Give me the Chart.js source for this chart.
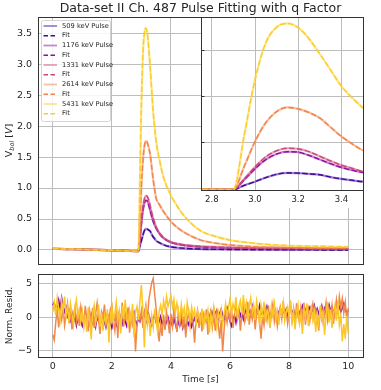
<!DOCTYPE html>
<html>
<head>
<meta charset="utf-8">
<script src="https://cdn.jsdelivr.net/npm/chart.js@4.4.0/dist/chart.umd.min.js"></script>
<style>
  body { margin: 0; background: #fff; }
  #wrap { position: relative; width: 381px; height: 390px; }
  canvas { position: absolute; }
</style>
</head>
<body>
<div id="wrap">
  <canvas id="main" width="381" height="270" style="left:0;top:0"></canvas>
  <canvas id="inset" width="170" height="198" style="left:195px;top:10px"></canvas>
  <canvas id="resid" width="381" height="120" style="left:0;top:270px"></canvas>
</div>
<script>
// ---- data ----
const seriesNames = ['509 keV', '1176 keV', '1331 keV', '2614 keV', '5431 keV'];
const fitColors = ['#41049d', '#8f0da4', '#cc4778', '#f2844b', '#fcce25'];

const pulseTime = [0, 0.5, 1, 1.5, 2, 2.5, 2.9, 2.95, 3.0, 3.05, 3.1, 3.15, 3.2, 3.25, 3.3, 3.35, 3.4, 3.45, 3.5,
                   3.6, 3.75, 4.0, 4.25, 4.5, 5.0, 5.5, 6, 7, 8, 9, 10];
const pulse509  = [0.02, 0.015, 0.01, 0.003, -0.005, -0.013, -0.02, 0.07, 0.15, 0.24, 0.31, 0.34, 0.335, 0.32, 0.30, 0.25, 0.21, 0.18, 0.15,
                   0.12, 0.085, 0.05, 0.035, 0.025, 0.015, 0.01, 0.008, 0.004, 0.002, 0.001, 0];
const pulse1176 = [0.02, 0.015, 0.01, 0.003, -0.005, -0.013, -0.02, 0.19, 0.43, 0.63, 0.75, 0.80, 0.79, 0.72, 0.63, 0.54, 0.46, 0.40, 0.35,
                   0.27, 0.19, 0.12, 0.09, 0.07, 0.05, 0.04, 0.035, 0.03, 0.02, 0.02, 0.02];
const pulse1331 = [0.02, 0.015, 0.01, 0.003, -0.005, -0.013, -0.02, 0.21, 0.47, 0.69, 0.82, 0.875, 0.86, 0.80, 0.70, 0.60, 0.51, 0.44, 0.37,
                   0.28, 0.20, 0.13, 0.10, 0.08, 0.06, 0.05, 0.04, 0.03, 0.03, 0.02, 0.02];
const pulse2614 = [0.02, 0.015, 0.01, 0.003, -0.005, -0.013, -0.02, 0.48, 1.02, 1.43, 1.67, 1.76, 1.73, 1.65, 1.53, 1.33, 1.13, 0.97, 0.83,
                   0.74, 0.62, 0.46, 0.35, 0.27, 0.16, 0.11, 0.08, 0.05, 0.04, 0.03, 0.03];
const pulse5431 = [0.02, 0.015, 0.01, 0.003, -0.005, -0.013, -0.02, 1.15, 2.36, 3.16, 3.50, 3.58, 3.49, 3.25, 2.92, 2.57, 2.22, 1.97, 1.75,
                   1.48, 1.17, 0.88, 0.68, 0.52, 0.31, 0.22, 0.16, 0.10, 0.07, 0.06, 0.05];
const pulses = [pulse509, pulse1176, pulse1331, pulse2614, pulse5431];

// normalised residuals, one value every 0.05 s from 0 to 10 s
const residStep = 0.05;
const resid1176 = [
  1.8, 2.2, 0.9, 1.6, 2.6, 1.3, 2.9, 1.7, 0.8, 1.5, 0.2, 1.0, -0.4, 0.6, -0.8, 0.3, -1.2, -0.2, 0.5, -0.6,
  -1.3, -0.4, 0.2, -1.0, -1.7, -0.5, 0.4, -0.9, -0.2, -1.4, 0.1, -0.6, -1.1, -0.3, 0.5, -0.8, -1.5, -0.4, 0.2, -0.9,
  -1.6, -0.7, 0.1, -1.2, -0.5, 0.6, -0.3, -1.0, 0.4, -0.6, -1.3, -0.1, 0.5, -0.8, -0.2, 0.7, -0.5, -1.1, 0.0, -0.6,
  0.3, -0.4, 0.8, -0.2, -0.9, 0.4, -0.5, -1.2, -0.3, 0.5, -0.8, -1.4, -0.6, 0.1, -1.0, -0.4, -1.3, -0.7, 0.0, -0.9,
  -0.5, -1.3, -0.2, -1.0, -1.8, -0.6, -1.2, -0.3, -1.6, -0.8, -1.9, -0.5, -1.1, -0.2, -1.4, -0.7, -0.1, -1.0, -0.4, -0.8,
  -0.3, 0.4, -0.7, 0.2, -0.5, 0.6, -0.2, 0.9, 0.3, 1.3, 0.5, 1.0, -0.2, 0.6, 1.2, 0.4, -0.4, 0.8, 1.4, 0.2,
  -0.6, -1.3, -0.4, 0.3, -0.8, 0.5, 1.1, 0.2, 0.9, -0.3, 0.6, 1.4, 0.3, 1.0, 0.5, 1.7, 0.8, 0.2, 1.1, 0.5,
  1.8, 0.9, 0.3, 1.2, 0.5, 1.6, 0.7, 0.1, 1.0, 0.4, 1.3, 0.6, 0.0, 0.8, 1.4, 0.3, 1.0, 0.5, 1.2, 0.2,
  0.9, 1.5, 0.6, 1.1, 0.2, 0.8, 1.4, 0.5, 1.0, 1.7, 0.7, 1.2, 0.3, 0.9, 1.5, 0.6, 1.1, 1.8, 0.8, 1.3,
  0.5, 1.2, 1.8, 0.9, 1.4, 0.6, 1.1, 1.9, 1.0, 1.5, 0.7, 1.3, 2.0, 1.1, 1.6, 0.8, 1.4, 2.1, 1.2, 0.6,
  1.0];
const resid2614 = [
  -2.6, -3.4, -0.8, 1.2, -1.5, 0.6, -0.4, 1.8, -1.2, 0.3, 2.0, -0.9, 0.9, -1.8, 0.2, 1.5, -0.6, 0.8, -1.3, 1.6,
  0.4, -1.0, 1.7, -0.2, -2.0, 0.9, -0.7, 1.4, -1.6, 0.5, 2.1, -0.4, -2.5, 0.8, 0.0, 1.9, -1.1, 0.6, -0.5, 1.2,
  1.8, -0.6, -2.0, 1.1, -3.1, 0.4, -0.8, 2.2, -1.4, 0.7, -0.2, 1.5, -2.3, 0.3, -1.0, 0.9, -5.1, -1.2, 0.6, -0.4,
  1.0, -1.6, 0.5, 1.8, -0.5, 2.6, 3.9, 5.2, 5.8, 3.4, 1.2, -1.5, -3.6, -1.0, -2.8, 0.4, -1.9, 0.8, -0.6, -2.4,
  0.5, -1.3, 1.2, -0.4, -2.2, 0.8, -0.9, 1.5, -1.7, 0.2, -3.0, -0.5, 0.9, -1.4, 0.3, -0.8, -3.8, -0.2, 1.0, -1.6,
  0.7, -2.1, 0.4, -0.6, 1.2, -2.6, -0.3, 0.9, -1.5, 0.3, -2.0, 0.6, -1.0, -3.2, -0.4, -5.1, -1.8, 0.5, -0.8, 1.0,
  -0.5, 1.3, -1.6, 0.4, 2.0, -0.2, 1.0, -2.0, 0.6, 1.8, -0.7, 0.2, 2.3, -1.1, 0.8, -0.3, 1.6, -1.8, 0.5, 1.2,
  -0.8, -3.2, 0.3, -1.2, 1.1, -0.4, 1.8, -1.5, 0.5, 2.0, -0.6, 0.9, -1.3, 0.4, 1.5, -0.2, 2.4, 0.1, 1.0, -1.0,
  0.6, 1.9, -0.5, 1.2, -1.4, 2.1, 0.3, -0.8, 1.5, 0.0, 2.2, -1.1, 0.7, 1.4, -0.6, 0.9, 2.0, -0.3, 1.1, 0.4,
  -2.0, 0.8, 1.6, -0.7, 0.5, 2.2, -0.4, 1.3, 0.2, 1.8, -1.0, 0.9, 2.6, 0.4, 3.1, 1.5, 2.8, 0.6, 2.2, -0.3,
  1.4];
const resid5431 = [
  0.8, 2.2, 0.3, 2.9, 1.2, -0.4, 2.5, 1.0, 3.1, 0.2, 1.6, -0.8, 2.0, 0.5, -1.2, 1.4, 2.6, 0.0, 1.1, -0.6,
  0.9, -1.5, 0.4, -2.2, 1.5, -0.3, -3.3, 0.6, 1.8, -0.9, 0.2, 1.9, -1.4, 0.7, -2.0, 0.3, -0.8, 1.2, -3.8, 0.1,
  1.5, -1.0, 0.6, 2.3, -0.5, 0.9, -2.4, 1.7, -0.2, 2.6, 0.4, -1.6, 1.0, -0.7, 2.0, -3.0, 0.8, 1.6, -0.4, 2.4,
  4.8, 1.0, -4.5, 1.8, -1.2, 0.5, -2.8, 0.2, -1.5, 1.3, -0.6, -2.2, 0.9, 1.8, 0.3, 2.5, 1.2, 3.1, 1.6, 2.4,
  3.2, 1.5, 2.7, 0.6, 2.1, 1.0, -0.5, 1.9, 0.3, 1.4, -0.8, 2.2, 0.7, -0.3, 1.5, 0.1, 1.1, -1.2, 0.9, 0.2,
  -0.6, 1.3, -1.8, 0.5, -0.3, 1.0, -2.3, 0.4, -0.9, 1.6, 0.2, -1.5, 0.8, -0.4, 1.2, -1.0, 0.6, 2.0, 0.3, 1.5,
  2.8, 0.6, 2.0, 1.1, 3.0, -0.2, 1.7, 2.5, 0.4, 3.3, 1.2, 2.2, -0.5, 1.6, 2.9, 0.7, 1.9, -0.4, 2.4, 1.0,
  -1.2, 1.8, 0.3, 2.3, -0.7, 1.1, 0.5, -1.6, 1.7, 0.2, 2.0, -0.3, 0.9, -1.1, 1.4, 0.4, 2.2, -0.5, 0.8, 1.6,
  0.1, 2.4, -0.6, 1.0, -1.8, 0.7, 1.9, -0.9, 0.4, -2.5, 1.3, 0.0, 2.1, -1.3, 0.6, 1.5, -0.4, 1.0, -2.2, 0.5,
  -1.0, 1.7, -0.3, 0.9, -2.6, 0.4, 2.3, -0.8, 1.2, -1.6, 0.6, 1.8, -0.5, 2.5, -1.2, 0.3, -3.6, -1.0, -3.2, 0.2,
  -2.5];
const residSeries = [resid1176, resid2614, resid5431];
const residColors = ['#7f06a8', '#f2874a', '#fcc626'];

// ---- helpers ----
const FONT = '"DejaVu Sans", sans-serif';
const GRID = '#bdbdbd';
const INK = '#262626';

function alpha(hex, a) {
  const n = parseInt(hex.slice(1), 16);
  return `rgba(${n >> 16},${(n >> 8) & 255},${n & 255},${a})`;
}
function xy(xs, ys) { return ys.map((y, i) => ({x: xs[i], y: y})); }

function richText(ctx, segs, cx, cy, rot) {
  ctx.save();
  ctx.translate(cx, cy);
  if (rot) ctx.rotate(rot);
  ctx.fillStyle = INK;
  ctx.textBaseline = 'middle';
  ctx.textAlign = 'left';
  let w = 0;
  segs.forEach(s => { ctx.font = s.font; w += ctx.measureText(s.t).width; });
  let x = -w / 2;
  segs.forEach(s => {
    ctx.font = s.font;
    ctx.fillText(s.t, x, s.dy || 0);
    x += ctx.measureText(s.t).width;
  });
  ctx.restore();
}

// no extra padding from tick labels: the boxes are sized by hand
function fixW(w) { return s => { s.width = w; s.paddingTop = 0; s.paddingBottom = 0; }; }
function fixH(h) { return s => { s.height = h; s.paddingLeft = 0; s.paddingRight = 0; }; }

const frame = {
  id: 'frame',
  afterDatasetsDraw(chart) {
    const a = chart.chartArea, c = chart.ctx;
    c.save();
    c.strokeStyle = '#333';
    c.lineWidth = 1;
    c.strokeRect(Math.floor(a.left) + 0.5, Math.floor(a.top) + 0.5,
                 Math.round(a.right - a.left), Math.round(a.bottom - a.top));
    c.restore();
  }
};

// later datasets go on top (chart.js puts low order on top)
function pulseSets() {
  const sets = [];
  pulses.forEach((p, i) => {
    sets.push({ label: seriesNames[i] + ' Pulse', data: xy(pulseTime, p),
      borderColor: alpha(fitColors[i], 0.5), borderWidth: 2.2 });
    sets.push({ label: 'Fit', data: xy(pulseTime, p),
      borderColor: fitColors[i], borderWidth: 1.4, borderDash: [5.5, 2.4] });
  });
  sets.forEach((s, k) => {
    s.pointRadius = 0; s.cubicInterpolationMode = 'monotone'; s.fill = false; s.order = sets.length - k;
  });
  return sets;
}

Chart.defaults.font.family = FONT;
Chart.defaults.color = INK;

// ---- main panel ----
const mainLabels = {
  id: 'mainLabels',
  afterDraw(chart) {
    const c = chart.ctx;
    richText(c, [{t: 'Data-set II Ch. 487 Pulse Fitting with q Factor', font: '12.5px ' + FONT}], 200.5, 9);
    richText(c, [
      {t: 'V', font: '9.5px ' + FONT},
      {t: 'bol', font: 'italic 6.5px ' + FONT, dy: 2.5},
      {t: ' [', font: '9.5px ' + FONT},
      {t: 'V', font: 'italic 9.5px ' + FONT},
      {t: ']', font: '9.5px ' + FONT}
    ], 10, 140.5, -Math.PI / 2);

    // legend box
    c.save();
    c.fillStyle = 'rgba(255,255,255,0.85)';
    c.strokeStyle = '#d4d4d4';
    c.lineWidth = 1;
    c.beginPath();
    c.roundRect(41.5, 20.5, 69, 101, 2);
    c.fill();
    c.stroke();
    chart.data.datasets.forEach((ds, k) => {
      const y = 26 + k * 9.75;
      c.strokeStyle = ds.borderColor;
      c.lineWidth = ds.borderDash ? 1.4 : 1.8;
      c.setLineDash(ds.borderDash ? [4.5, 2.5] : []);
      c.beginPath();
      c.moveTo(43.5, y);
      c.lineTo(57, y);
      c.stroke();
      c.setLineDash([]);
      c.fillStyle = INK;
      c.font = '6.7px ' + FONT;
      c.textBaseline = 'middle';
      c.fillText(ds.label, 62, y);
    });
    c.restore();
  }
};

new Chart(document.getElementById('main'), {
  type: 'line',
  data: { datasets: pulseSets() },
  options: {
    responsive: false, animation: false, devicePixelRatio: 1,
    layout: { padding: { top: 17, right: 18, left: 0, bottom: 0 } },
    plugins: { legend: { display: false }, tooltip: { enabled: false } },
    scales: {
      x: { type: 'linear', min: -0.5, max: 10.5,
        ticks: { display: false, stepSize: 2, includeBounds: false },
        grid: { color: GRID, drawTicks: false }, border: { display: false },
        afterFit: fixH(6) },
      y: { min: -0.226, max: 3.76,
        ticks: { stepSize: 0.5, includeBounds: false, padding: 6,
          font: { size: 9.5 }, callback: v => Number(v).toFixed(1) },
        grid: { color: GRID, drawTicks: false }, border: { display: false },
        afterFit: fixW(38) }
    }
  },
  plugins: [frame, mainLabels]
});

// ---- inset ----
const insetDeco = {
  id: 'insetDeco',
  beforeDraw(chart) {
    const a = chart.chartArea, c = chart.ctx;
    c.save();
    c.fillStyle = '#fff';
    c.fillRect(a.left, a.top, a.right - a.left, chart.height - a.top);
    c.restore();
  },
  afterDraw(chart) {
    const c = chart.ctx, ys = chart.scales.y, a = chart.chartArea;
    c.save();
    c.strokeStyle = '#333';
    c.lineWidth = 1;
    [1, 2, 3].forEach(v => {
      const y = Math.round(ys.getPixelForValue(v)) + 0.5;
      c.beginPath();
      c.moveTo(a.left, y);
      c.lineTo(a.left + 3.5, y);
      c.stroke();
    });
    c.restore();
  }
};

new Chart(document.getElementById('inset'), {
  type: 'line',
  data: { datasets: pulseSets() },
  options: {
    responsive: false, animation: false, devicePixelRatio: 1,
    layout: { padding: { top: 7, right: 2, left: 0, bottom: 0 } },
    plugins: { legend: { display: false }, tooltip: { enabled: false } },
    scales: {
      x: { type: 'linear', min: 2.75, max: 3.5,
        ticks: { stepSize: 0.2, includeBounds: false, padding: 5,
          font: { size: 8.5 }, callback: v => Number(v).toFixed(1) },
        grid: { color: GRID, drawTicks: false }, border: { display: false },
        afterFit: fixH(18) },
      y: { min: -0.03, max: 3.72,
        ticks: { display: false, stepSize: 1, includeBounds: false },
        grid: { color: ctx => ctx.tick && ctx.tick.value === 0 ? 'rgba(0,0,0,0)' : GRID, drawTicks: false },
        border: { display: false },
        afterFit: fixW(6) }
    }
  },
  plugins: [insetDeco, frame]
});

// ---- residuals ----
const residLabels = {
  id: 'residLabels',
  afterDraw(chart) {
    const c = chart.ctx;
    richText(c, [{t: 'Norm. Resid.', font: '9px ' + FONT}], 10, 45.5, -Math.PI / 2);
    richText(c, [
      {t: 'Time [', font: '9px ' + FONT},
      {t: 's', font: 'italic 9px ' + FONT},
      {t: ']', font: '9px ' + FONT}
    ], 200.5, 109.5);
  }
};

new Chart(document.getElementById('resid'), {
  type: 'line',
  data: {
    datasets: residSeries.map((r, i) => ({
      data: r.map((v, k) => ({x: k * residStep, y: v})),
      borderColor: residColors[i], borderWidth: 1.5, pointRadius: 0, tension: 0,
      order: residSeries.length - i
    }))
  },
  options: {
    responsive: false, animation: false, devicePixelRatio: 1,
    layout: { padding: { top: 4, right: 18, left: 0, bottom: 0 } },
    plugins: { legend: { display: false }, tooltip: { enabled: false } },
    scales: {
      x: { type: 'linear', min: -0.5, max: 10.5,
        ticks: { stepSize: 2, includeBounds: false, padding: 4, font: { size: 9.5 } },
        grid: { color: GRID, drawTicks: false }, border: { display: false },
        afterFit: fixH(33) },
      y: { min: -5.93, max: 6.46,
        ticks: { stepSize: 5, includeBounds: false, padding: 6, font: { size: 9.5 },
          callback: v => v < 0 ? '\u2212' + Math.abs(v) : String(v) },
        grid: { color: GRID, drawTicks: false }, border: { display: false },
        afterFit: fixW(38) }
    }
  },
  plugins: [frame, residLabels]
});
</script>
</body>
</html>
